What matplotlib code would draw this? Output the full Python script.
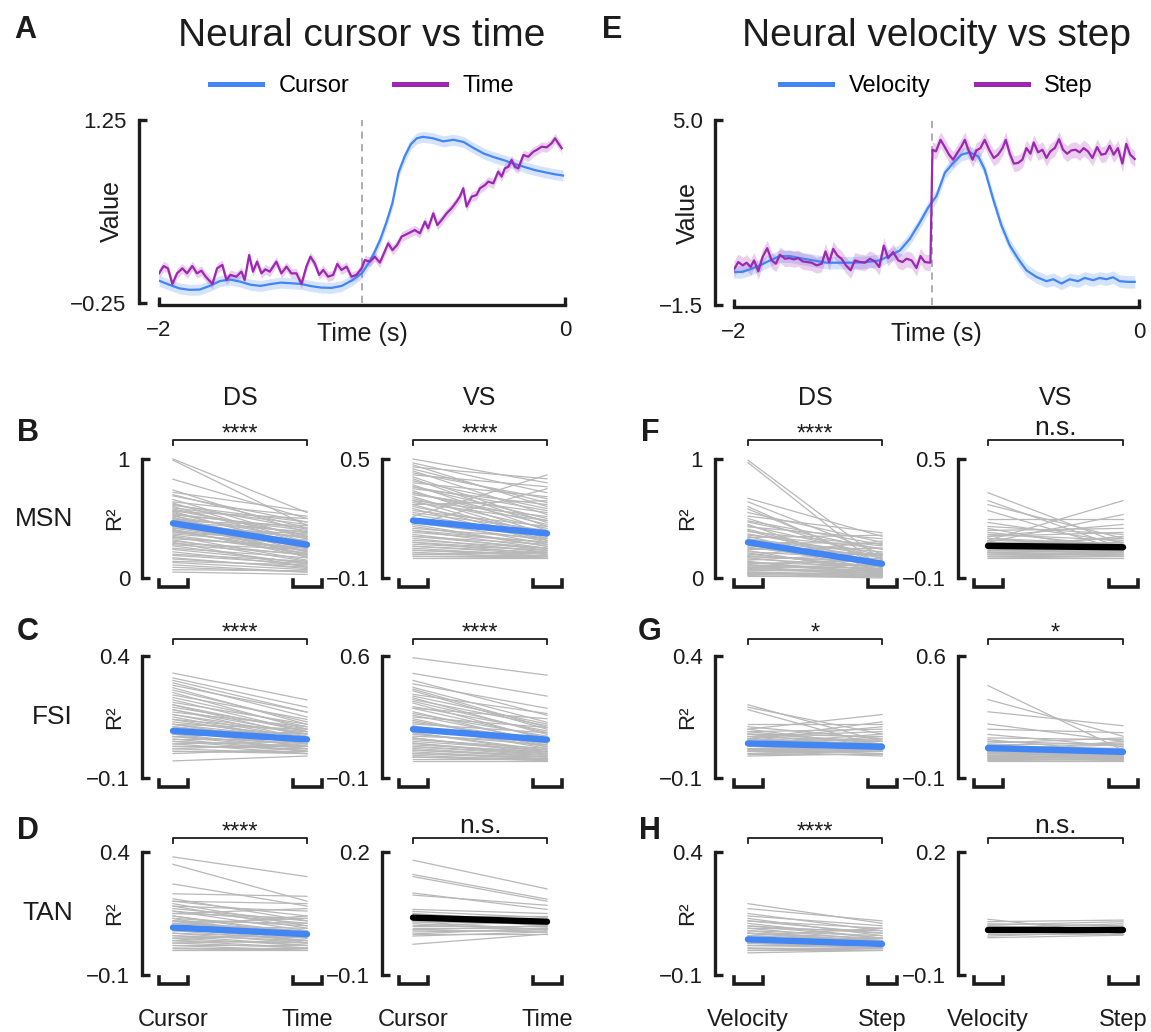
import numpy as np
import matplotlib.pyplot as plt
from matplotlib.lines import Line2D
from matplotlib.transforms import blended_transform_factory

W, H = 1151, 1032
BLUE = '#4285f4'
PURPLE = '#9c27b0'
GRAY = '#b8b8b8'
INK = '#1c1c1c'

# ---- population traces (mean, aligned to movement end) ----
cursor_t = [-2.00, -1.95, -1.90, -1.85, -1.80, -1.75, -1.70, -1.65, -1.60, -1.55,
            -1.50, -1.45, -1.40, -1.35, -1.30, -1.25, -1.20, -1.15, -1.10, -1.05,
            -1.00, -0.97, -0.94, -0.91, -0.88, -0.85, -0.82, -0.79, -0.76, -0.73,
            -0.70, -0.65, -0.60, -0.55, -0.50, -0.45, -0.40, -0.35, -0.30, -0.25,
            -0.20, -0.15, -0.10, -0.05, -0.01]
cursor_v = [-0.067, -0.10, -0.13, -0.142, -0.14, -0.11, -0.07, -0.058, -0.075, -0.10,
            -0.11, -0.095, -0.083, -0.088, -0.094, -0.112, -0.124, -0.126, -0.11, -0.065,
            -0.005, 0.07, 0.16, 0.27, 0.41, 0.57, 0.82, 0.95, 1.05, 1.10,
            1.112, 1.10, 1.075, 1.088, 1.07, 1.02, 0.975, 0.945, 0.92, 0.89,
            0.865, 0.84, 0.822, 0.805, 0.795]
cursor_sem = 0.045

time_t = [-2.000, -1.977, -1.956, -1.934, -1.911, -1.885, -1.862, -1.836, -1.813, -1.791,
          -1.770, -1.737, -1.714, -1.688, -1.668, -1.648, -1.619, -1.594, -1.578, -1.556,
          -1.537, -1.517, -1.495, -1.476, -1.454, -1.422, -1.397, -1.372, -1.348, -1.323,
          -1.298, -1.274, -1.254, -1.233, -1.211, -1.191, -1.167, -1.142, -1.122, -1.101,
          -1.076, -1.052, -1.027, -1.002, -0.986, -0.961, -0.937, -0.912, -0.892, -0.871,
          -0.850, -0.827, -0.805, -0.772, -0.740, -0.715, -0.690, -0.674, -0.649, -0.629,
          -0.608, -0.583, -0.559, -0.534, -0.518, -0.501, -0.485, -0.460, -0.436, -0.419,
          -0.394, -0.378, -0.353, -0.329, -0.312, -0.296, -0.279, -0.263, -0.247, -0.230,
          -0.205, -0.181, -0.156, -0.140, -0.115, -0.090, -0.066, -0.049, -0.033, -0.016]
time_v = [-0.007, 0.053, 0.034, -0.094, -0.007, 0.034, -0.007, 0.053, -0.007, 0.015,
          -0.034, -0.094, 0.034, 0.062, -0.061, -0.020, -0.034, 0.007, -0.061, 0.143,
          0.007, 0.089, -0.007, 0.026, 0.007, 0.089, -0.007, 0.048, -0.007, -0.007,
          -0.094, 0.048, 0.130, 0.075, -0.020, 0.021, -0.034, -0.020, 0.070, 0.021,
          0.048, -0.034, -0.020, 0.034, 0.102, 0.089, 0.130, 0.081, 0.157, 0.239,
          0.184, 0.225, 0.294, 0.321, 0.348, 0.321, 0.417, 0.362, 0.485, 0.389,
          0.430, 0.485, 0.526, 0.581, 0.622, 0.690, 0.540, 0.622, 0.635, 0.690,
          0.717, 0.745, 0.731, 0.827, 0.786, 0.854, 0.867, 0.922, 0.867, 0.854,
          0.963, 0.949, 0.990, 1.004, 1.031, 1.026, 1.059, 1.100, 1.059, 1.018]
time_sem = 0.04

vel_t = [-2.000, -1.962, -1.921, -1.872, -1.822, -1.773, -1.724, -1.674, -1.609, -1.543,
         -1.477, -1.411, -1.345, -1.280, -1.230, -1.181, -1.132, -1.082, -1.041, -1.000,
         -0.959, -0.918, -0.877, -0.836, -0.794, -0.762, -0.720, -0.679, -0.638, -0.597,
         -0.556, -0.507, -0.457, -0.424, -0.383, -0.342, -0.301, -0.268, -0.227, -0.194,
         -0.161, -0.128, -0.095, -0.054, -0.021]
vel_v = [-0.339, -0.339, -0.246, -0.107, 0.067, 0.218, 0.218, 0.148, 0.067, -0.014,
         -0.014, -0.014, 0.009, 0.067, 0.241, 0.415, 0.822, 1.402, 1.924, 2.330,
         3.143, 3.491, 3.781, 3.863, 3.723, 3.259, 2.214, 1.286, 0.589, 0.125,
         -0.281, -0.513, -0.664, -0.595, -0.745, -0.595, -0.664, -0.548, -0.629, -0.548,
         -0.595, -0.525, -0.664, -0.687, -0.687]
vel_sem = 0.22

step_t = [-2.000, -1.979, -1.957, -1.938, -1.918, -1.901, -1.880, -1.859, -1.836, -1.814,
          -1.793, -1.773, -1.748, -1.727, -1.704, -1.683, -1.661, -1.638, -1.617, -1.592,
          -1.567, -1.548, -1.530, -1.510, -1.490, -1.469, -1.447, -1.424, -1.403, -1.378,
          -1.354, -1.329, -1.304, -1.283, -1.260, -1.239, -1.214, -1.189, -1.168, -1.148,
          -1.123, -1.099, -1.079, -1.058, -1.030,
          -1.020, -1.003, -0.980, -0.959, -0.938, -0.918, -0.898, -0.877, -0.860, -0.844,
          -0.822, -0.803, -0.783, -0.762, -0.740, -0.717, -0.696, -0.674, -0.658, -0.638,
          -0.618, -0.597, -0.576, -0.556, -0.536, -0.520, -0.498, -0.477, -0.457, -0.438,
          -0.416, -0.395, -0.375, -0.355, -0.334, -0.313, -0.293, -0.273, -0.252, -0.230,
          -0.207, -0.186, -0.165, -0.145, -0.125, -0.104, -0.082, -0.063, -0.043, -0.021]
step_v = [-0.246, 0.009, -0.107, -0.014, -0.165, 0.067, -0.316, 0.183, 0.496, 0.067,
          -0.049, 0.264, 0.125, 0.148, 0.102, 0.148, 0.032, 0.009, -0.014, -0.107,
          -0.049, 0.380, 0.009, 0.473, 0.241, 0.125, -0.107, -0.281, 0.067, 0.009,
          -0.014, 0.125, 0.032, -0.165, 0.589, 0.148, 0.357, 0.067, 0.009, 0.125,
          0.067, -0.200, 0.218, 0.009, -0.014,
          3.955, 3.897, 4.304, 4.048, 3.781, 3.607, 3.839, 4.071, 4.304, 3.979,
          3.607, 3.932, 4.013, 4.304, 3.955, 3.665, 3.781, 4.013, 4.304, 3.816,
          3.468, 3.491, 3.607, 4.013, 3.816, 4.211, 3.863, 3.955, 3.665, 3.897,
          4.013, 4.327, 3.955, 3.816, 3.932, 3.955, 3.863, 4.013, 3.897, 3.665,
          4.048, 3.781, 3.816, 4.095, 3.781, 4.013, 3.468, 4.164, 3.781, 3.630]
step_sem = 0.28

# ---- per-neuron R^2, cursor vs time model ----
msn_ds_cursor = [1.00, 0.99, 0.83, 0.74, 0.72, 0.69, 0.66, 0.64, 0.62, 0.60,
                 0.59, 0.57, 0.56, 0.55, 0.54, 0.53, 0.52, 0.51, 0.50, 0.49,
                 0.48, 0.47, 0.46, 0.45, 0.44, 0.43, 0.42, 0.41, 0.40, 0.39,
                 0.38, 0.36, 0.35, 0.33, 0.31, 0.30, 0.29, 0.27, 0.25, 0.22,
                 0.20, 0.17, 0.14, 0.11, 0.07, 0.05,
                 0.61, 0.58, 0.53, 0.50, 0.47, 0.44, 0.42, 0.40, 0.37, 0.34,
                 0.32, 0.28, 0.24, 0.19, 0.16, 0.13, 0.09, 0.70, 0.63, 0.56]
msn_ds_time = [0.55, 0.44, 0.50, 0.38, 0.56, 0.47, 0.33, 0.52, 0.41, 0.29,
               0.45, 0.36, 0.50, 0.27, 0.40, 0.17, 0.33, 0.22, 0.38, 0.30,
               0.44, 0.25, 0.34, 0.20, 0.31, 0.37, 0.26, 0.18, 0.29, 0.23,
               0.32, 0.21, 0.15, 0.26, 0.19, 0.09, 0.24, 0.12, 0.17, 0.10,
               0.14, 0.08, 0.11, 0.05, 0.06, 0.03,
               0.47, 0.35, 0.42, 0.27, 0.39, 0.22, 0.35, 0.20, 0.28, 0.25,
               0.14, 0.20, 0.13, 0.12, 0.09, 0.07, 0.05, 0.42, 0.30, 0.25]
msn_vs_cursor = [0.50, 0.48, 0.46, 0.45, 0.44, 0.42, 0.41, 0.39, 0.38, 0.37,
                 0.36, 0.35, 0.34, 0.33, 0.32, 0.30, 0.29, 0.28, 0.26, 0.25,
                 0.24, 0.22, 0.21, 0.20, 0.19, 0.18, 0.17, 0.16, 0.15, 0.14,
                 0.13, 0.12, 0.11, 0.10, 0.09, 0.08, 0.07, 0.06, 0.05, 0.04,
                 0.03, 0.02, 0.01, 0.00, 0.27,
                 0.47, 0.43, 0.40, 0.36, 0.33, 0.31, 0.29, 0.27, 0.23, 0.20,
                 0.17, 0.14, 0.11, 0.08, 0.06, 0.04, 0.02, 0.01]
msn_vs_time = [0.38, 0.33, 0.40, 0.28, 0.22, 0.36, 0.18, 0.25, 0.31, 0.14,
               0.20, 0.27, 0.12, 0.17, 0.23, 0.15, 0.10, 0.19, 0.13, 0.08,
               0.16, 0.11, 0.42, 0.07, 0.12, 0.09, 0.35, 0.06, 0.10, 0.05,
               0.08, 0.04, 0.07, 0.03, 0.05, 0.02, 0.04, 0.03, 0.01, 0.02,
               0.00, 0.01, 0.00, 0.00, 0.29,
               0.26, 0.30, 0.16, 0.24, 0.19, 0.11, 0.21, 0.09, 0.14, 0.10,
               0.06, 0.08, 0.05, 0.04, 0.02, 0.01, 0.03, 0.01]
fsi_ds_cursor = [0.33, 0.31, 0.29, 0.28, 0.26, 0.25, 0.24, 0.22, 0.21, 0.20,
                 0.19, 0.18, 0.17, 0.16, 0.15, 0.14, 0.13, 0.12, 0.11, 0.10,
                 0.10, 0.09, 0.08, 0.08, 0.07, 0.06, 0.06, 0.05, 0.04, 0.04,
                 0.03, 0.02, 0.02, 0.01, 0.00, -0.03, 0.12, 0.07,
                 0.30, 0.27, 0.23, 0.20, 0.18, 0.16, 0.14, 0.12, 0.11, 0.09,
                 0.07, 0.05, 0.03, 0.01]
fsi_ds_time = [0.22, 0.19, 0.15, 0.17, 0.13, 0.10, 0.14, 0.09, 0.12, 0.07,
               0.10, 0.06, 0.11, 0.08, 0.05, 0.09, 0.07, 0.04, 0.06, 0.08,
               0.03, 0.05, 0.07, 0.02, 0.04, 0.06, 0.01, 0.03, 0.05, 0.00,
               0.02, 0.04, 0.00, 0.01, 0.02, -0.01, 0.10, 0.09,
               0.17, 0.12, 0.11, 0.09, 0.08, 0.06, 0.05, 0.06, 0.04, 0.03,
               0.02, 0.01, 0.03, 0.00]
fsi_vs_cursor = [0.59, 0.50, 0.46, 0.44, 0.42, 0.40, 0.38, 0.36, 0.35, 0.33,
                 0.31, 0.30, 0.28, 0.27, 0.25, 0.24, 0.22, 0.21, 0.20, 0.18,
                 0.17, 0.16, 0.15, 0.14, 0.13, 0.12, 0.11, 0.10, 0.09, 0.08,
                 0.07, 0.06, 0.05, 0.04, 0.03, 0.02, 0.01, 0.00,
                 0.41, 0.37, 0.34, 0.30, 0.26, 0.23, 0.19, 0.16, 0.13, 0.10,
                 0.08, 0.06, 0.04, 0.02]
fsi_vs_time = [0.49, 0.37, 0.26, 0.30, 0.22, 0.18, 0.27, 0.15, 0.20, 0.12,
               0.17, 0.24, 0.10, 0.14, 0.19, 0.08, 0.12, 0.16, 0.07, 0.10,
               0.13, 0.05, 0.09, 0.11, 0.04, 0.07, 0.06, 0.03, 0.05, 0.04,
               0.02, 0.03, 0.01, 0.02, 0.00, 0.01, 0.01, 0.00,
               0.19, 0.21, 0.16, 0.13, 0.11, 0.09, 0.08, 0.06, 0.05, 0.04,
               0.03, 0.02, 0.01, 0.00]
tan_ds_cursor = [0.38, 0.35, 0.27, 0.23, 0.20, 0.20, 0.19, 0.18, 0.17, 0.16,
                 0.15, 0.15, 0.14, 0.13, 0.12, 0.12, 0.11, 0.10, 0.09, 0.09,
                 0.08, 0.07, 0.07, 0.06, 0.05, 0.05, 0.04, 0.03, 0.03, 0.02,
                 0.01, 0.01, 0.00, 0.00, 0.10, 0.04,
                 0.21, 0.18, 0.16, 0.14, 0.12, 0.10, 0.08, 0.06, 0.04, 0.02,
                 0.11, 0.13]
tan_ds_time = [0.30, 0.20, 0.18, 0.22, 0.14, 0.19, 0.10, 0.16, 0.12, 0.08,
               0.13, 0.17, 0.07, 0.10, 0.11, 0.05, 0.08, 0.09, 0.04, 0.06,
               0.07, 0.03, 0.05, 0.04, 0.06, 0.02, 0.03, 0.01, 0.04, 0.02,
               0.00, 0.01, 0.00, 0.01, 0.14, 0.08,
               0.12, 0.09, 0.11, 0.06, 0.07, 0.05, 0.04, 0.02, 0.01, 0.00,
               0.13, 0.03]
tan_vs_cursor = [0.18, 0.145, 0.14, 0.10, 0.095, 0.06, 0.055, 0.05, 0.045, 0.04,
                 0.035, 0.03, 0.025, 0.02, 0.015, 0.01, 0.005, 0.00, -0.005, -0.025,
                 0.02, 0.01, 0.03, 0.00]
tan_vs_time = [0.11, 0.085, 0.08, 0.06, 0.07, 0.05, 0.04, 0.03, 0.045, 0.02,
               0.035, 0.025, 0.01, 0.02, 0.015, 0.005, 0.01, 0.00, 0.005, 0.00,
               0.03, 0.02, 0.01, 0.015]

# ---- per-neuron R^2, velocity vs step model ----
msn_ds_vel = [0.99, 0.97, 0.67, 0.64, 0.60, 0.55, 0.52, 0.50, 0.47, 0.45,
              0.43, 0.41, 0.39, 0.37, 0.35, 0.34, 0.32, 0.31, 0.30, 0.28,
              0.27, 0.26, 0.24, 0.23, 0.22, 0.20, 0.19, 0.18, 0.17, 0.15,
              0.14, 0.13, 0.12, 0.11, 0.10, 0.09, 0.08, 0.07, 0.06, 0.05,
              0.04, 0.03, 0.02, 0.02,
              0.58, 0.48, 0.44, 0.40, 0.36, 0.33, 0.29, 0.25, 0.21, 0.18,
              0.16, 0.13, 0.11, 0.09, 0.07, 0.05, 0.04, 0.03]
msn_ds_step = [0.15, 0.08, 0.35, 0.20, 0.10, 0.30, 0.38, 0.16, 0.24, 0.05,
               0.33, 0.12, 0.27, 0.18, 0.09, 0.36, 0.22, 0.14, 0.29, 0.07,
               0.19, 0.11, 0.25, 0.04, 0.16, 0.09, 0.31, 0.13, 0.06, 0.21,
               0.03, 0.10, 0.15, 0.05, 0.08, 0.02, 0.12, 0.04, 0.07, 0.01,
               0.03, 0.05, 0.02, 0.00,
               0.12, 0.28, 0.19, 0.09, 0.25, 0.17, 0.11, 0.20, 0.07, 0.14,
               0.10, 0.05, 0.08, 0.04, 0.06, 0.03, 0.02, 0.01]
msn_vs_vel = [0.33, 0.29, 0.27, 0.24, 0.20, 0.18, 0.16, 0.15, 0.14, 0.13,
              0.12, 0.11, 0.10, 0.09, 0.09, 0.08, 0.08, 0.07, 0.07, 0.06,
              0.06, 0.05, 0.05, 0.04, 0.04, 0.03, 0.03, 0.02, 0.02, 0.01,
              0.01, 0.00, 0.11, 0.05,
              0.07, 0.06, 0.05, 0.04, 0.03, 0.02, 0.01, 0.00, 0.08, 0.10]
msn_vs_step = [0.07, 0.05, 0.10, 0.04, 0.20, 0.08, 0.12, 0.03, 0.15, 0.06,
               0.09, 0.13, 0.05, 0.29, 0.07, 0.22, 0.04, 0.10, 0.06, 0.03,
               0.08, 0.05, 0.02, 0.06, 0.03, 0.04, 0.01, 0.03, 0.02, 0.01,
               0.02, 0.00, 0.17, 0.11,
               0.04, 0.05, 0.03, 0.04, 0.02, 0.03, 0.01, 0.01, 0.06, 0.07]
fsi_ds_vel = [0.20, 0.19, 0.18, 0.12, 0.11, 0.10, 0.09, 0.09, 0.08, 0.08,
              0.07, 0.07, 0.06, 0.06, 0.05, 0.05, 0.04, 0.04, 0.03, 0.03,
              0.02, 0.02, 0.01, 0.01, 0.00, 0.00, -0.01, 0.03, 0.06, 0.02, 0.01,
              0.10, 0.08, 0.07, 0.06, 0.05, 0.04, 0.03, 0.02, 0.01, 0.00]
fsi_ds_step = [0.05, 0.08, 0.03, 0.12, 0.06, 0.16, 0.04, 0.10, 0.07, 0.02,
               0.09, 0.05, 0.11, 0.03, 0.06, 0.01, 0.08, 0.04, 0.02, 0.05,
               0.03, 0.00, 0.02, 0.04, 0.01, 0.00, 0.00, 0.07, 0.13, 0.01, -0.01,
               0.03, 0.05, 0.02, 0.04, 0.03, 0.02, 0.01, 0.02, 0.01, 0.01]
fsi_vs_vel = [0.43, 0.35, 0.28, 0.21, 0.18, 0.15, 0.13, 0.12, 0.11, 0.10,
              0.09, 0.09, 0.08, 0.08, 0.07, 0.07, 0.06, 0.06, 0.05, 0.05,
              0.04, 0.04, 0.03, 0.03, 0.02, 0.02, 0.01, 0.01, 0.00, 0.00,
              0.05, 0.02,
              0.09, 0.07, 0.06, 0.05, 0.04, 0.03, 0.02, 0.01, 0.00]
fsi_vs_step = [0.06, 0.14, 0.20, 0.11, 0.16, 0.08, 0.12, 0.05, 0.09, 0.13,
               0.06, 0.10, 0.04, 0.07, 0.05, 0.09, 0.03, 0.06, 0.04, 0.02,
               0.05, 0.03, 0.02, 0.04, 0.01, 0.03, 0.02, 0.00, 0.01, 0.00,
               0.11, 0.07,
               0.04, 0.03, 0.05, 0.03, 0.02, 0.01, 0.02, 0.01, 0.01]
tan_ds_vel = [0.19, 0.17, 0.15, 0.14, 0.13, 0.12, 0.11, 0.10, 0.09, 0.09,
              0.08, 0.07, 0.07, 0.06, 0.05, 0.05, 0.04, 0.03, 0.03, 0.02,
              0.01, 0.01, 0.00, -0.01, 0.06, 0.02,
              0.12, 0.10, 0.08, 0.07, 0.05, 0.04, 0.03, 0.02, 0.01, 0.00]
tan_ds_step = [0.11, 0.12, 0.08, 0.10, 0.06, 0.09, 0.05, 0.07, 0.04, 0.08,
               0.06, 0.03, 0.05, 0.04, 0.02, 0.05, 0.03, 0.01, 0.04, 0.02,
               0.00, 0.01, 0.00, 0.00, 0.09, 0.03,
               0.07, 0.05, 0.03, 0.04, 0.03, 0.02, 0.02, 0.01, 0.01, 0.01]
tan_vs_vel = [0.036, 0.03, 0.025, 0.02, 0.015, 0.01, 0.005, 0.0, -0.005, -0.009,
              0.018, 0.012, 0.008, 0.004, 0.022]
tan_vs_step = [0.0, 0.034, 0.02, 0.01, 0.025, 0.005, 0.015, 0.0, 0.005, -0.003,
               0.012, 0.008, 0.018, 0.006, 0.03]

# population means per panel
mean_cursor_time = {'msn_ds': [0.46, 0.28], 'msn_vs': [0.19, 0.125],
                    'fsi_ds': [0.093, 0.058], 'fsi_vs': [0.18, 0.12],
                    'tan_ds': [0.093, 0.066], 'tan_vs': [0.040, 0.030]}
mean_vel_step = {'msn_ds': [0.30, 0.12], 'msn_vs': [0.062, 0.055],
                 'fsi_ds': [0.042, 0.028], 'fsi_vs': [0.072, 0.050],
                 'tan_ds': [0.045, 0.026], 'tan_vs': [0.010, 0.010]}

row_names = ['MSN', 'FSI', 'TAN']
ylims = [((0, 1), ('1', '0')), ((-0.1, 0.5), ('0.5', '\u22120.1')),
         ((-0.1, 0.4), ('0.4', '\u22120.1')), ((-0.1, 0.6), ('0.6', '\u22120.1')),
         ((-0.1, 0.4), ('0.4', '\u22120.1')), ((-0.1, 0.2), ('0.2', '\u22120.1'))]
sig_cursor_time = ['****', '****', '****', '****', '****', 'n.s.']
sig_vel_step = ['****', 'n.s.', '*', '*', '****', 'n.s.']

plt.rcParams['font.family'] = ['Liberation Sans', 'DejaVu Sans']

fig = plt.figure(figsize=(W / 100, H / 100), dpi=100)


def px_axes(x0, y0, x1, y1):
    return fig.add_axes([x0 / W, 1 - y1 / H, (x1 - x0) / W, (y1 - y0) / H])


def ftext(x, y, s, **kw):
    kw.setdefault('color', INK)
    return fig.text(x / W, 1 - y / H, s, **kw)


def trace_panel(box, spine_x, ylim, ylabels, series, onset, names, title, letter, letter_x):
    x0, y0, x1, y1 = box
    ax = px_axes(x0, y0, x1, y1)
    for t, v, sem, col in series:
        t = np.asarray(t)
        v = np.asarray(v)
        ax.fill_between(t, v - sem, v + sem, color=col, alpha=0.22, lw=0)
        ax.plot(t, v, color=col, lw=1.6)
    ax.axvline(onset, color='#a8a8a8', lw=1.3, ls=(0, (4, 3)), zorder=0)
    ax.set_xlim(-2, 0)
    ax.set_ylim(*ylim)
    ax.set_xticks([-2, 0], ['\u22122', '0'])
    ax.set_yticks(list(ylim), list(ylabels)[::-1])
    for s in ('top', 'right'):
        ax.spines[s].set_visible(False)
    for s in ('left', 'bottom'):
        ax.spines[s].set_linewidth(2.4)
        ax.spines[s].set_color(INK)
    ax.spines['left'].set_position(('outward', (x0 - spine_x) * 0.72))
    ax.spines['bottom'].set_position(('outward', 1.5))
    ax.tick_params(direction='in', length=6, width=2.4, color=INK,
                   labelsize=16, labelcolor=INK)
    ax.tick_params(axis='y', pad=9)
    ax.tick_params(axis='x', pad=11)
    ax.patch.set_visible(False)
    cx = (x0 + x1) / 2
    ftext(cx, 341, 'Time (s)', ha='center', va='baseline', fontsize=18)
    ftext(spine_x - 27, (y0 + y1) / 2, 'Value', rotation=90,
          ha='center', va='center', fontsize=18)
    ftext(cx, 46, title, ha='center', va='baseline', fontsize=28)
    ftext(letter_x, 38, letter, ha='center', va='baseline', fontsize=22, weight='bold')
    handles = [Line2D([], [], color=c, lw=3.6) for c in (BLUE, PURPLE)]
    fig.legend(handles, names, loc='center', bbox_to_anchor=(cx / W, 1 - 86 / H),
               ncol=2, frameon=False, fontsize=17, handlelength=2.2,
               handletextpad=0.7, columnspacing=1.9)
    return ax


def slope_panel(spine_x, c0, c1, top, bot, ylim, ylabels, first, second,
                mean, mean_col, sig, sig_y):
    scale = c1 - c0
    ax = px_axes(spine_x, top, c1 + 20, bot)
    ax.set_xlim(-(c0 - spine_x) / scale, 1 + 20 / scale)
    ax.set_ylim(*ylim)
    for a, b in zip(first, second):
        ax.plot([0, 1], [a, b], color=GRAY, lw=0.9, zorder=1, clip_on=False)
    ax.plot([0, 1], mean, color=mean_col, lw=4.6, solid_capstyle='round',
            zorder=3, clip_on=False)
    ax.set_xticks([])
    ax.set_yticks(list(ylim), list(ylabels)[::-1])
    for s in ('top', 'right', 'bottom'):
        ax.spines[s].set_visible(False)
    ax.spines['left'].set_linewidth(2.4)
    ax.spines['left'].set_color(INK)
    ax.tick_params(axis='y', direction='in', length=6, width=2.4, color=INK,
                   labelsize=16, labelcolor=INK, pad=8.5)
    ax.patch.set_visible(False)

    h = bot - top
    tr = blended_transform_factory(ax.transData, ax.transAxes)
    hw = 14.5 / scale
    yb = -9 / h
    yt = yb + 7 / h
    for c in (0, 1):
        ax.plot([c - hw, c - hw, c + hw, c + hw], [yt, yb, yb, yt], transform=tr,
                color=INK, lw=2.6, clip_on=False, solid_joinstyle='miter')
    ys = 1 + (top - sig_y) / h
    ax.plot([0, 0, 1, 1], [ys - 5 / h, ys, ys, ys - 5 / h], transform=tr,
            color=INK, lw=1.3, clip_on=False)
    cx = (c0 + c1) / 2
    if sig == 'n.s.':
        ftext(cx, sig_y - 5, sig, ha='center', va='baseline', fontsize=19)
    else:
        ftext(cx, sig_y + 1, sig, ha='center', va='baseline', fontsize=17)
    return ax


# top traces
trace_panel((159, 120, 565, 303), 139, (-0.25, 1.25), ('1.25', '\u22120.25'),
            [(cursor_t, cursor_v, cursor_sem, BLUE), (time_t, time_v, time_sem, PURPLE)],
            -1.0, ['Cursor', 'Time'], 'Neural cursor vs time', 'A', 25)
trace_panel((734, 120, 1139, 305), 715, (-1.5, 5.0), ('5.0', '\u22121.5'),
            [(vel_t, vel_v, vel_sem, BLUE), (step_t, step_v, step_sem, PURPLE)],
            -1.02, ['Velocity', 'Step'], 'Neural velocity vs step', 'E', 612)

# slope panels: (spine x, first category x, second category x)
left_cols = [(142, 173, 307), (382, 413, 547)]
right_cols = [(715, 748, 882), (958, 988, 1123)]
rows = [(459, 578, 440), (656, 778, 639), (852, 975, 838)]

ct_data = [(msn_ds_cursor, msn_ds_time), (msn_vs_cursor, msn_vs_time),
           (fsi_ds_cursor, fsi_ds_time), (fsi_vs_cursor, fsi_vs_time),
           (tan_ds_cursor, tan_ds_time), (tan_vs_cursor, tan_vs_time)]
vs_data = [(msn_ds_vel, msn_ds_step), (msn_vs_vel, msn_vs_step),
           (fsi_ds_vel, fsi_ds_step), (fsi_vs_vel, fsi_vs_step),
           (tan_ds_vel, tan_ds_step), (tan_vs_vel, tan_vs_step)]
keys = ['msn_ds', 'msn_vs', 'fsi_ds', 'fsi_vs', 'tan_ds', 'tan_vs']

groups = [(left_cols, ct_data, mean_cursor_time, sig_cursor_time, ('Cursor', 'Time'), 'BCD', 28),
          (right_cols, vs_data, mean_vel_step, sig_vel_step, ('Velocity', 'Step'), 'FGH', 650)]

for cols, data, means, sigs, cats, letters, letter_x in groups:
    for r, (top, bot, sig_y) in enumerate(rows):
        for c, (sx, c0, c1) in enumerate(cols):
            i = 2 * r + c
            mean = means[keys[i]]
            col = 'black' if sigs[i] == 'n.s.' else BLUE
            ylim, ylabels = ylims[i]
            slope_panel(sx, c0, c1, top, bot, ylim, ylabels, data[i][0], data[i][1],
                        mean, col, sigs[i], sig_y)
            if c == 0:
                ftext(sx - 27, (top + bot) / 2, 'R\u00b2', rotation=90,
                      ha='center', va='center', fontsize=16)
            if r == 0:
                ftext((c0 + c1) / 2, 405, ['DS', 'VS'][c], ha='center',
                      va='baseline', fontsize=18)
            if r == 2:
                ftext(c0, 1026, cats[0], ha='center', va='baseline', fontsize=17)
                ftext(c1, 1026, cats[1], ha='center', va='baseline', fontsize=17)
        ftext(letter_x, sig_y + 1, letters[r], ha='center', va='baseline',
              fontsize=22, weight='bold')
        if cols is left_cols:
            ftext(73, (top + bot) / 2, row_names[r], ha='right', va='center', fontsize=19)

fig.savefig('out.png', dpi=100)
